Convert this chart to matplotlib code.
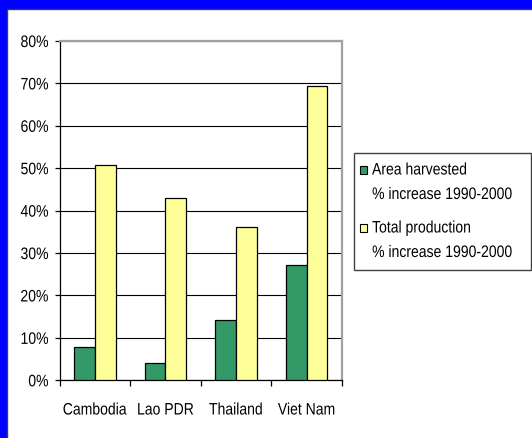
import matplotlib
matplotlib.use("Agg")
import matplotlib.pyplot as plt
from matplotlib.patches import Rectangle
from matplotlib.patheffects import AbstractPathEffect
from matplotlib.transforms import Affine2D
from matplotlib.ticker import FixedLocator, PercentFormatter

countries = ["Cambodia", "Lao PDR", "Thailand", "Viet Nam"]
area_harvested = [7.8, 4.1, 14.1, 27.2]
total_production = [50.8, 42.9, 36.2, 69.3]
series_names = ["Area harvested", "Total production"]
series_subtitle = "% increase 1990-2000"
y_ticks = [0, 10, 20, 30, 40, 50, 60, 70, 80]

GREEN = "#339966"
YELLOW = "#FFFF99"
BLUE = "#0000FF"
NARROW = 0.84  # horizontal squeeze giving an Arial-Narrow look

plt.rcParams["font.family"] = ["Liberation Sans", "DejaVu Sans"]
plt.rcParams["font.size"] = 12


class Condense(AbstractPathEffect):
    """Squeeze glyph outlines horizontally about the text's anchor."""

    def __init__(self, sx, align):
        super().__init__()
        self.sx = sx
        self.align = align

    def draw_path(self, renderer, gc, tpath, affine, rgbFace=None):
        ext = tpath.get_extents(affine)
        if self.align == "right":
            x0 = ext.x1
        elif self.align == "center":
            x0 = 0.5 * (ext.x0 + ext.x1)
        else:
            x0 = ext.x0
        squeeze = Affine2D().translate(-x0, 0).scale(self.sx, 1).translate(x0, 0)
        renderer.draw_path(gc, tpath, affine + squeeze, rgbFace)


W, H = 532, 439
fig = plt.figure(figsize=(W / 100, H / 100), dpi=100, facecolor=BLUE)


def fx(px):
    return px / W


def fy(py):
    return 1 - py / H


# white slide panel inside the blue frame
fig.add_artist(Rectangle((fx(7.3), -0.1), 1.2, fy(9.5) + 0.1, transform=fig.transFigure,
                         facecolor="white", edgecolor="#404040", linewidth=1.0, zorder=0))

ax = fig.add_axes([fx(59.5), fy(381.3), fx(342) - fx(59.5), fy(42) - fy(381.3)])
ax.set_facecolor("white")

n = len(countries)
xs = list(range(n))
bw = 0.293
ax.bar([x - bw / 2 for x in xs], area_harvested, width=bw, color=GREEN,
       edgecolor="black", linewidth=0.9, zorder=3)
ax.bar([x + bw / 2 for x in xs], total_production, width=bw, color=YELLOW,
       edgecolor="black", linewidth=0.9, zorder=3)

ax.set_xlim(-0.5, n - 0.5)
ax.set_ylim(0, 80)
ax.yaxis.set_major_locator(FixedLocator(y_ticks))
ax.yaxis.set_major_formatter(PercentFormatter(decimals=0))
ax.set_axisbelow(True)
ax.yaxis.grid(True, color="black", linewidth=0.8)

# category boundaries carry the ticks, centres carry the names
ax.xaxis.set_major_locator(FixedLocator([i - 0.5 for i in range(n + 1)]))
ax.xaxis.set_minor_locator(FixedLocator(xs))
ax.set_xticklabels([])
ax.set_xticklabels(countries, minor=True)
ax.tick_params(axis="x", which="major", length=4, width=0.9, direction="out", color="black")
ax.tick_params(axis="x", which="minor", length=0, pad=16, labelsize=12)
ax.tick_params(axis="y", length=3.3, width=0.9, pad=4.5, labelsize=12)

for side in ("left", "bottom"):
    ax.spines[side].set_color("black")
    ax.spines[side].set_linewidth(0.9)
for side in ("top", "right"):
    ax.spines[side].set_color("#A0A0A0")
    ax.spines[side].set_linewidth(1.6)

# legend box
fig.add_artist(Rectangle((fx(354), fy(271)), fx(530.5) - fx(354), fy(153.5) - fy(271),
                         transform=fig.transFigure, facecolor="white",
                         edgecolor="#404040", linewidth=1.0, zorder=5))
entries = [(series_names[0], GREEN, 171), (series_names[1], YELLOW, 229)]
for name, color, yc in entries:
    fig.add_artist(Rectangle((fx(360), fy(yc + 4)), fx(367) - fx(360), fy(yc - 4) - fy(yc + 4),
                             transform=fig.transFigure, facecolor=color,
                             edgecolor="black", linewidth=0.8, zorder=6))
    for label, ypx in ((name, yc), (series_subtitle, yc + 24.5)):
        t = fig.text(fx(372), fy(ypx), label, ha="left", va="center", fontsize=12, zorder=6)
        t.set_path_effects([Condense(NARROW, "left")])

fig.canvas.draw()
for lbl in ax.get_yticklabels():
    lbl.set_path_effects([Condense(NARROW, "right")])
for lbl in ax.get_xticklabels(minor=True):
    lbl.set_path_effects([Condense(NARROW, "center")])

fig.savefig("out.png", dpi=100, facecolor=BLUE)
